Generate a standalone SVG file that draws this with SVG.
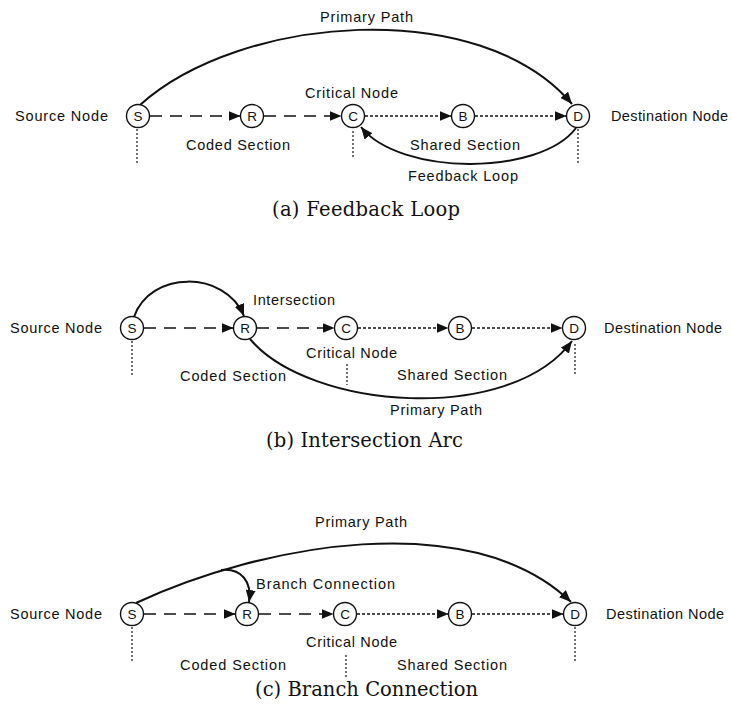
<svg xmlns="http://www.w3.org/2000/svg" width="732" height="717" viewBox="0 0 732 717">
<style>
.bg{fill:#ffffff}
.node circle{fill:#ffffff;stroke:#111;stroke-width:1.4}
.node text{font-family:"Liberation Sans",Arial,sans-serif;font-size:13.5px;fill:#111;text-anchor:middle}
.lbl{font-family:"Liberation Sans",Arial,sans-serif;font-size:14.5px;fill:#111}
.cap{font-family:"DejaVu Serif","Liberation Serif",serif;font-size:19.5px;fill:#111}
.curve{fill:none;stroke:#111;stroke-width:2}
.dash{fill:none;stroke:#111;stroke-width:1.6;stroke-dasharray:12 8}
.dot{fill:none;stroke:#111;stroke-width:1.6;stroke-dasharray:3 2}
.vdot{fill:none;stroke:#111;stroke-width:1.2;stroke-dasharray:2 2}
</style>
<defs>
<marker id="ah" viewBox="0 0 12 10" refX="12" refY="5" markerWidth="12" markerHeight="10" markerUnits="userSpaceOnUse" orient="auto">
<path d="M0,0 L12,5 L0,10 z" fill="#111"/>
</marker>
</defs>
<rect class="bg" x="0" y="0" width="732" height="717"/>

<!-- Panel (a) -->
<g id="connectors-a">
<path class="curve" d="M140,105 C240,15 480,-5 572,104" marker-end="url(#ah)"/>
<path class="curve" d="M576,128 C540,176 400,176 361,127" marker-end="url(#ah)"/>
<line class="dash" x1="150" y1="116" x2="240.5" y2="116" marker-end="url(#ah)"/>
<line class="dash" x1="264" y1="116" x2="341.5" y2="116" marker-end="url(#ah)"/>
<line class="dot" x1="365" y1="116" x2="451.5" y2="116" marker-end="url(#ah)"/>
<line class="dot" x1="475" y1="116" x2="566.5" y2="116" marker-end="url(#ah)"/>
<line class="vdot" x1="137" y1="129" x2="137" y2="164"/>
<line class="vdot" x1="353" y1="131" x2="353" y2="157"/>
<line class="vdot" x1="578" y1="129" x2="578" y2="164"/>
</g>
<g id="a-S" class="node"><circle cx="138" cy="116" r="11.5"/><text x="138" y="121">S</text></g>
<g id="a-R" class="node"><circle cx="252" cy="116" r="11.5"/><text x="252" y="121">R</text></g>
<g id="a-C" class="node"><circle cx="353" cy="116" r="11.5"/><text x="353" y="121">C</text></g>
<g id="a-B" class="node"><circle cx="463" cy="116" r="11.5"/><text x="463" y="121">B</text></g>
<g id="a-D" class="node"><circle cx="578" cy="116" r="11.5"/><text x="578" y="121">D</text></g>
<g id="a-labels">
<text class="lbl" x="15" y="121" textLength="93">Source Node</text>
<text class="lbl" x="611" y="121" textLength="117">Destination Node</text>
<text class="lbl" x="320" y="22" textLength="93">Primary Path</text>
<text class="lbl" x="305" y="98" textLength="93">Critical Node</text>
<text class="lbl" x="186" y="150" textLength="104">Coded Section</text>
<text class="lbl" x="410" y="150" textLength="110">Shared Section</text>
<text class="lbl" x="408" y="181" textLength="110">Feedback Loop</text>
<text class="cap" x="272" y="216" textLength="188">(a) Feedback Loop</text>
</g>

<!-- Panel (b) -->
<g id="connectors-b">
<path class="curve" d="M134,317 C150,270 225,270 244,316" marker-end="url(#ah)"/>
<path class="curve" d="M250,339 C310,410 510,425 572,341" marker-end="url(#ah)"/>
<line class="dash" x1="144" y1="328" x2="233.5" y2="328" marker-end="url(#ah)"/>
<line class="dash" x1="257" y1="328" x2="334.5" y2="328" marker-end="url(#ah)"/>
<line class="dot" x1="358" y1="328" x2="448.5" y2="328" marker-end="url(#ah)"/>
<line class="dot" x1="472" y1="328" x2="562.5" y2="328" marker-end="url(#ah)"/>
<line class="vdot" x1="132" y1="341" x2="132" y2="376"/>
<line class="vdot" x1="347" y1="364" x2="347" y2="385"/>
<line class="vdot" x1="575" y1="344" x2="575" y2="376"/>
</g>
<g id="b-S" class="node"><circle cx="132" cy="328" r="11.5"/><text x="132" y="333">S</text></g>
<g id="b-R" class="node"><circle cx="245" cy="328" r="11.5"/><text x="245" y="333">R</text></g>
<g id="b-C" class="node"><circle cx="346" cy="328" r="11.5"/><text x="346" y="333">C</text></g>
<g id="b-B" class="node"><circle cx="460" cy="328" r="11.5"/><text x="460" y="333">B</text></g>
<g id="b-D" class="node"><circle cx="574" cy="328" r="11.5"/><text x="574" y="333">D</text></g>
<g id="b-labels">
<text class="lbl" x="10" y="333" textLength="92">Source Node</text>
<text class="lbl" x="604" y="333" textLength="118">Destination Node</text>
<text class="lbl" x="253" y="305" textLength="82">Intersection</text>
<text class="lbl" x="306" y="358" textLength="91">Critical Node</text>
<text class="lbl" x="180" y="381" textLength="106">Coded Section</text>
<text class="lbl" x="397" y="380" textLength="110">Shared Section</text>
<text class="lbl" x="390" y="415" textLength="92">Primary Path</text>
<text class="cap" x="266" y="447" textLength="197">(b) Intersection Arc</text>
</g>

<!-- Panel (c) -->
<g id="connectors-c">
<path class="curve" d="M136,603 C260,545 470,505 571,602" marker-end="url(#ah)"/>
<path class="curve" d="M221,570 C242,568 252,582 249,602" marker-end="url(#ah)"/>
<line class="dash" x1="144" y1="614" x2="235.5" y2="614" marker-end="url(#ah)"/>
<line class="dash" x1="259" y1="614" x2="333.5" y2="614" marker-end="url(#ah)"/>
<line class="dot" x1="357" y1="614" x2="448.5" y2="614" marker-end="url(#ah)"/>
<line class="dot" x1="472" y1="614" x2="563.5" y2="614" marker-end="url(#ah)"/>
<line class="vdot" x1="132" y1="627" x2="132" y2="663"/>
<line class="vdot" x1="346" y1="655" x2="346" y2="678"/>
<line class="vdot" x1="575" y1="627" x2="575" y2="663"/>
</g>
<g id="c-S" class="node"><circle cx="132" cy="614" r="11.5"/><text x="132" y="619">S</text></g>
<g id="c-R" class="node"><circle cx="247" cy="614" r="11.5"/><text x="247" y="619">R</text></g>
<g id="c-C" class="node"><circle cx="345" cy="614" r="11.5"/><text x="345" y="619">C</text></g>
<g id="c-B" class="node"><circle cx="460" cy="614" r="11.5"/><text x="460" y="619">B</text></g>
<g id="c-D" class="node"><circle cx="575" cy="614" r="11.5"/><text x="575" y="619">D</text></g>
<g id="c-labels">
<text class="lbl" x="10" y="619" textLength="92">Source Node</text>
<text class="lbl" x="606" y="619" textLength="118">Destination Node</text>
<text class="lbl" x="315" y="527" textLength="92">Primary Path</text>
<text class="lbl" x="256" y="589" textLength="139">Branch Connection</text>
<text class="lbl" x="306" y="647" textLength="91">Critical Node</text>
<text class="lbl" x="180" y="670" textLength="106">Coded Section</text>
<text class="lbl" x="397" y="670" textLength="110">Shared Section</text>
<text class="cap" x="255" y="696" textLength="223">(c) Branch Connection</text>
</g>
</svg>
